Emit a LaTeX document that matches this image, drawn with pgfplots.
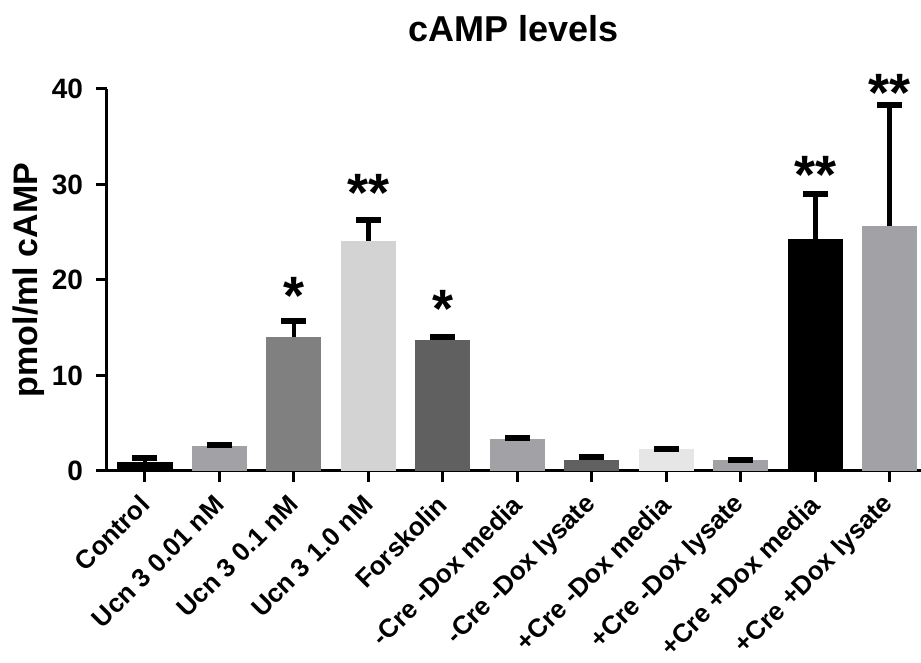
\documentclass[border=0pt]{standalone}
\usepackage{pgfplots}
\pgfplotsset{compat=1.18}
\usepackage{fontspec}
\setmainfont{Liberation Sans}
\definecolor{gA}{HTML}{A2A1A5}
\definecolor{gB}{HTML}{808080}
\definecolor{gC}{HTML}{D3D3D3}
\definecolor{gD}{HTML}{606060}
\definecolor{gE}{HTML}{E6E6E6}
\definecolor{gK}{HTML}{000000}
\begin{document}
\begin{tikzpicture}
\useasboundingbox (-53.5pt,-96pt) rectangle (407pt,235.5pt);
\begin{axis}[
  at={(0pt,0pt)}, anchor=south west,
  scale only axis, width=407pt, height=191pt,
  xmin=-0.51, xmax=10.42, ymin=0, ymax=40,
  enlargelimits=false, clip=false,
  axis x line=bottom, axis y line=left,
  axis line style={line width=1.5pt, -},
  every tick/.style={black, line width=1.5pt},
  major tick length=5.5pt, tick align=outside,
  ytick={0,10,20,30,40},
  xtick={0,...,10},
  xticklabels={Control, Ucn 3 0.01 nM, Ucn 3 0.1 nM, Ucn 3 1.0 nM, Forskolin, -Cre -Dox media, -Cre -Dox lysate, +Cre -Dox media, +Cre -Dox lysate, +Cre +Dox media, +Cre +Dox lysate},
  /pgf/number format/assume math mode=true,
  yticklabel style={font=\bfseries\fontsize{14}{14}\selectfont, xshift=-3pt},
  xticklabel shift=9pt,
  xticklabel style={font=\bfseries\fontsize{13}{13}\selectfont, inner sep=0pt, rotate=45, anchor=east},
  ylabel={pmol/ml cAMP},
  ylabel style={font=\bfseries\fontsize{17}{17}\selectfont, at={([xshift=-39pt]axis description cs:0,0.5)}, anchor=center, rotate=0},
  title={cAMP levels},
  title style={font=\bfseries\fontsize{18}{18}\selectfont, at={(axis description cs:0.5,1)}, anchor=base, yshift=17.5pt},
  mybar/.style={ybar, bar width=0.74, bar shift=0pt, draw=none, fill=#1,
    error bars/y dir=plus, error bars/y explicit,
    error bars/error bar style={line width=2.4pt, draw=black, solid},
    error bars/error mark options={rotate=90, line width=3pt, mark size=6.25pt, draw=black, solid}},
]
\addplot[mybar=gK] coordinates {(0,0.9) +- (0,0.5)};
\addplot[mybar=gA] coordinates {(1,2.6) +- (0,0.1)};
\addplot[mybar=gB] coordinates {(2,14.0) +- (0,1.7)};
\addplot[mybar=gC] coordinates {(3,24.1) +- (0,2.2)};
\addplot[mybar=gD] coordinates {(4,13.75) +- (0,0.3)};
\addplot[mybar=gA] coordinates {(5,3.3) +- (0,0.2)};
\addplot[mybar=gD] coordinates {(6,1.15) +- (0,0.35)};
\addplot[mybar=gE] coordinates {(7,2.3) +- (0,0.05)};
\addplot[mybar=gA] coordinates {(8,1.15) +- (0,0.0)};
\addplot[mybar=gK] coordinates {(9,24.3) +- (0,4.7)};
\addplot[mybar=gA] coordinates {(10,25.7) +- (0,12.6)};
\begin{scope}[every node/.style={anchor=north, inner sep=0pt, font=\bfseries\fontsize{27}{27}\selectfont}]
\node at (axis cs:2,20.3) {*};
\node at (axis cs:3,31.1) {**};
\node at (axis cs:4,19.0) {*};
\node at (axis cs:9,33.0) {**};
\node at (axis cs:10,41.6) {**};
\end{scope}
\end{axis}
\end{tikzpicture}
\end{document}
